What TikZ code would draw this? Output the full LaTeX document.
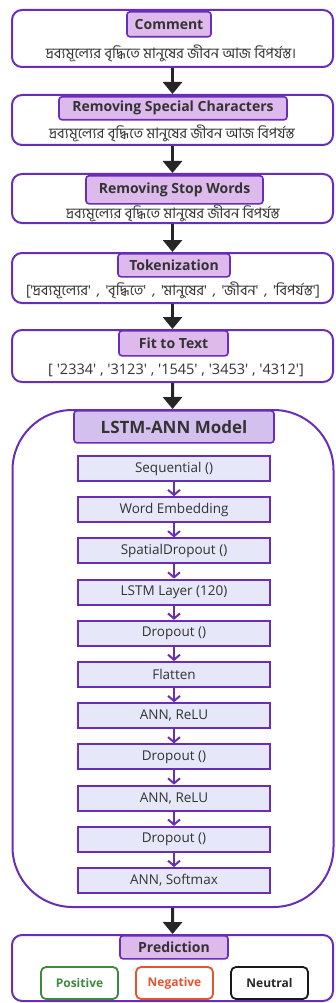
\documentclass[tikz,border=0pt]{standalone}
\usepackage{fontspec}
\usepackage{tikz}
\usetikzlibrary{arrows.meta}
\setmainfont{Open Sans}
\newfontfamily\bnfont[Script=Bengali]{Hind Siliguri}
\newcommand{\sq}{\textquotesingle}
\definecolor{edgepurple}{HTML}{6A2DB8}
\definecolor{hdfill}{HTML}{DDB9EC}
\definecolor{modelfill}{HTML}{D4C0EE}
\definecolor{layerfill}{HTML}{E6E7F8}
\definecolor{txtgray}{HTML}{333333}
\definecolor{posgreen}{HTML}{3C8A3C}
\definecolor{negred}{HTML}{E8532F}

\begin{document}
\begin{tikzpicture}[x=1pt, y=-1pt,
  stagebox/.style={draw=edgepurple, line width=2pt, rounded corners=10pt, minimum width=321pt},
  hd/.style={draw=edgepurple, fill=hdfill, line width=1.6pt, rounded corners=3pt, anchor=north,
    minimum height=24pt, inner sep=0pt, font=\bfseries\fontsize{14}{16}\selectfont, text=txtgray},
  bntext/.style={font=\bnfont\fontsize{14.5}{16}\selectfont, text=txtgray, inner sep=0pt},
  layer/.style={draw=edgepurple, fill=layerfill, line width=2pt, minimum width=192pt,
    minimum height=25pt, inner sep=0pt, font=\fontsize{13.5}{15}\selectfont, text=txtgray},
  outbox/.style={draw, line width=1.8pt, rounded corners=5pt, minimum width=77pt,
    minimum height=32pt, inner sep=0pt, font=\bfseries\fontsize{12}{14}\selectfont},
  flow/.style={line width=3pt, draw=black!85, -{Triangle[width=19pt,length=12pt]}},
  layerarrow/.style={line width=2pt, draw=edgepurple, -{Straight Barb[width=12pt,length=5pt]}}]
  \useasboundingbox (0,0) rectangle (335,1003);
  % Comment
  \node[stagebox, minimum height=57pt] (comment) at (172.5,38.5) {};
  \node[hd, minimum width=84pt, minimum height=25pt] (commenthd) at (169,11) {Comment};
  \node[bntext] (commenttx) at (171,53) {দ্রব্যমূল্যের বৃদ্ধিতে মানুষের জীবন আজ বিপর্যস্ত।};
  % Removing special characters
  \node[stagebox, minimum height=50pt] (special) at (172.5,120) {};
  \node[hd, minimum width=228pt, minimum height=23pt] (specialhd) at (173,96) {Removing Special Characters};
  \node[bntext] (specialtx) at (172,133) {দ্রব্যমূল্যের বৃদ্ধিতে মানুষের জীবন আজ বিপর্যস্ত};
  % Removing stop words
  \node[stagebox, minimum height=49pt] (stop) at (172.5,198.5) {};
  \node[hd, minimum width=177pt, minimum height=28pt] (stophd) at (174.5,175) {Removing Stop Words};
  \node[bntext] (stoptx) at (173,213) {দ্রব্যমূল্যের বৃদ্ধিতে মানুষের জীবন বিপর্যস্ত};
  % Tokenization
  \node[stagebox, minimum height=50pt] (token) at (172.5,278) {};
  \node[hd, minimum width=112pt, minimum height=23pt] (tokenhd) at (174,253) {Tokenization};
  \node[bntext] (tokentx) at (173,290) {\spaceskip=6pt plus 1pt[\sq দ্রব্যমূল্যের\sq{} , \sq বৃদ্ধিতে\sq{} , \sq মানুষের\sq{} , \sq জীবন\sq{} , \sq বিপর্যস্ত\sq]};
  % Fit to text
  \node[stagebox, minimum height=52pt] (fit) at (172.5,356) {};
  \node[hd, minimum width=109pt, minimum height=25pt] (fithd) at (173.5,330) {Fit to Text};
  \node[text=txtgray, font=\fontsize{14.5}{16}\selectfont, inner sep=0pt] (fittx) at (176,370)
    {[ \sq 2334\sq{} , \sq 3123\sq{} , \sq 1545\sq{} , \sq 3453\sq{} , \sq 4312\sq]};
  % LSTM-ANN model
  \node[stagebox, rounded corners=60pt, minimum height=497pt] (model) at (173,658.5) {};
  \node[hd, fill=modelfill, minimum width=200pt, minimum height=32pt,
    font=\bfseries\fontsize{17}{19}\selectfont] (modelhd) at (174,410) {LSTM-ANN Model};
  \foreach \t [count=\i from 0] in {Sequential (), Word Embedding, SpatialDropout (),
      LSTM Layer (120), Dropout (), Flatten, {ANN, ReLU}, Dropout (), {ANN, ReLU},
      Dropout (), {ANN, Softmax}}
    \node[layer] (l\i) at (174,468.5+41.2*\i) {\t};
  \foreach \i [evaluate=\i as \j using int(\i+1)] in {0,...,9}
    \draw[layerarrow] (l\i) -- (l\j);
  % Prediction
  \node[stagebox, minimum height=66pt] (pred) at (172.5,968) {};
  \node[hd, minimum width=108pt, minimum height=23pt] (predhd) at (174,935) {Prediction};
  \node[outbox, draw=posgreen, text=posgreen] (pos) at (79.5,983) {Positive};
  \node[outbox, draw=negred, text=negred] (neg) at (174.5,983) {Negative};
  \node[outbox, draw=black!90, text=black!85] (neu) at (269.5,983) {Neutral};
  % Pipeline arrows
  \draw[flow] (comment) -- (special);
  \draw[flow] (special) -- (stop);
  \draw[flow] (stop) -- (token);
  \draw[flow] (token) -- (fit);
  \draw[flow] (fit) -- (model);
  \draw[flow] (model) -- (pred);
\end{tikzpicture}
\end{document}
